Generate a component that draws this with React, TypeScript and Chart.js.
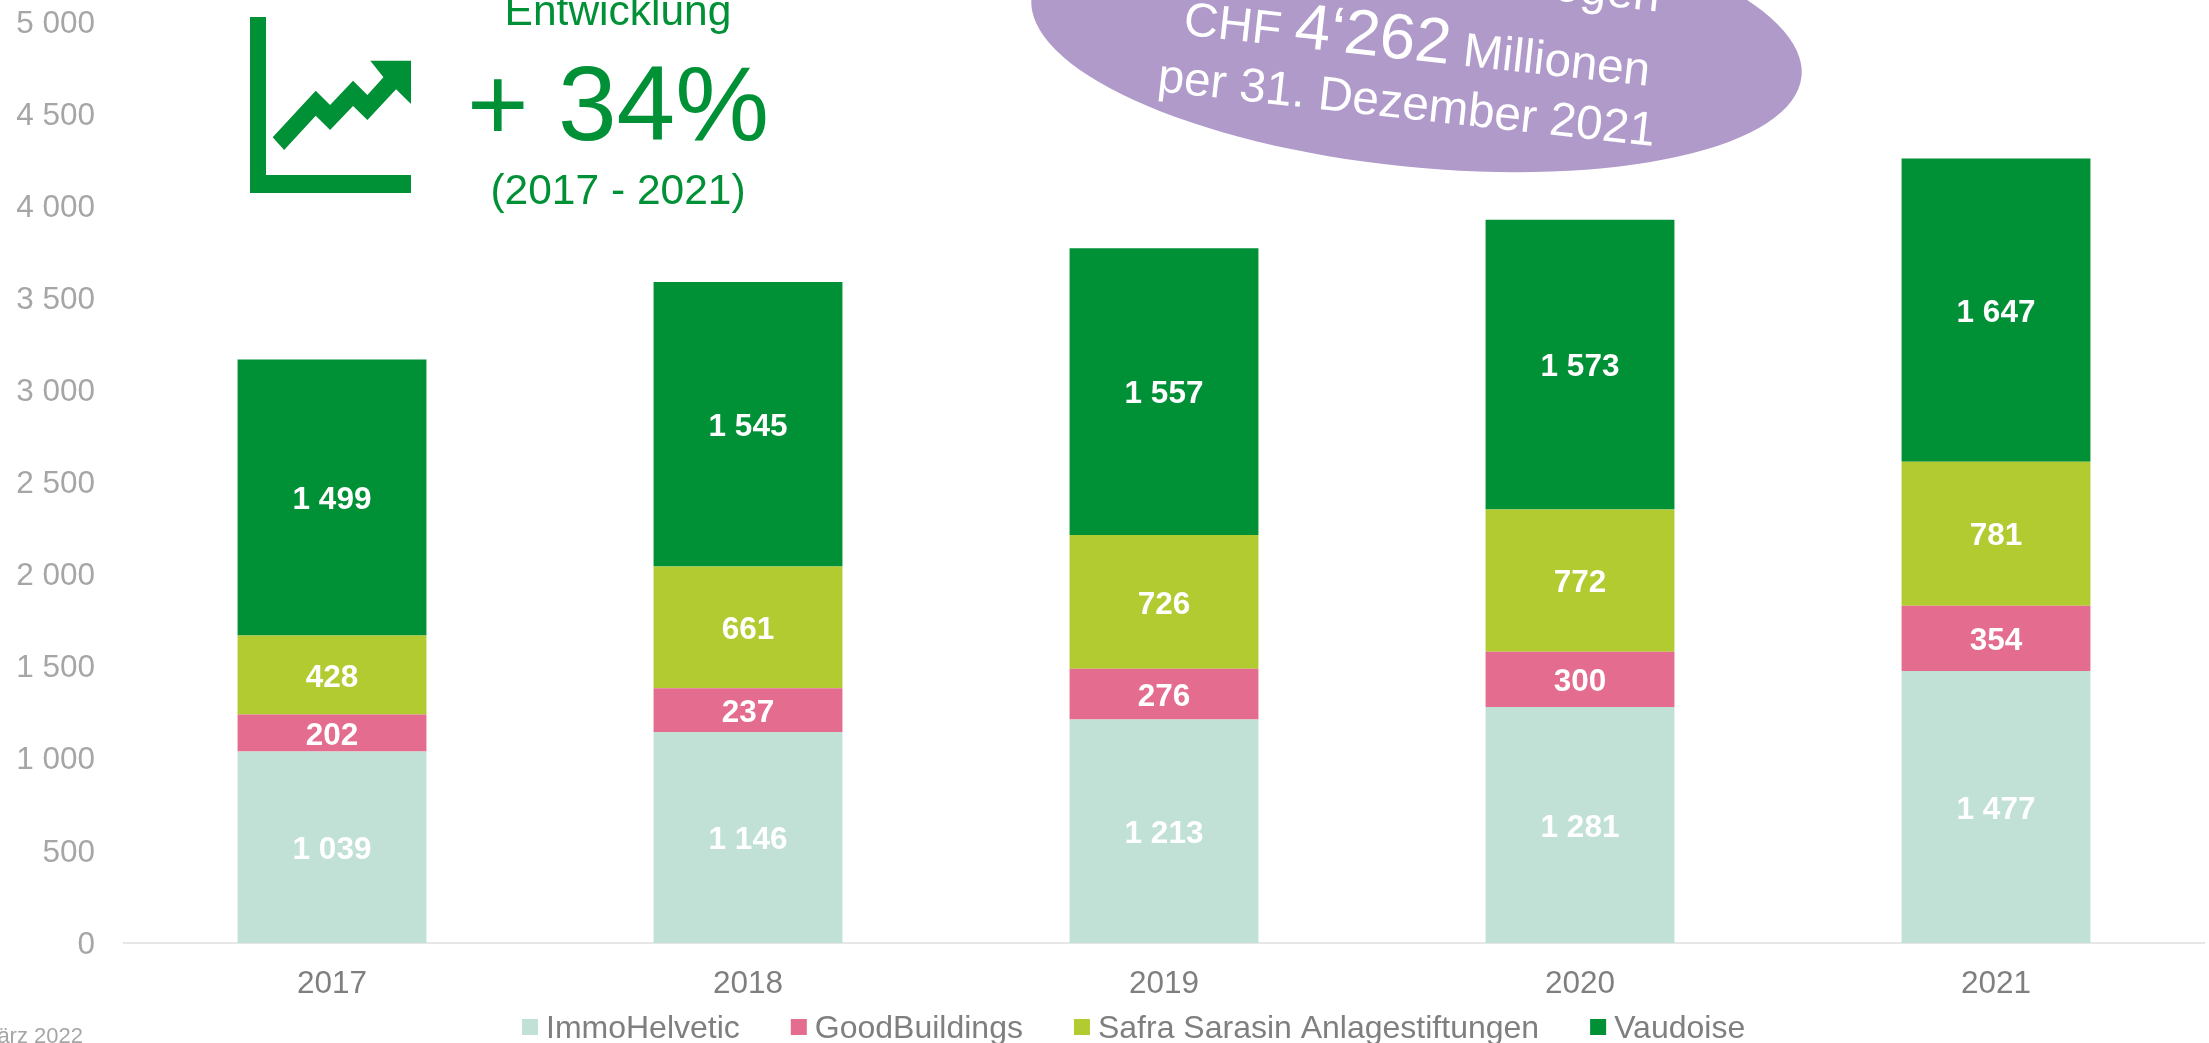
import React, { useEffect, useRef } from "react";
import { Chart, registerables } from "chart.js";

Chart.register(...registerables);

const years = ["2017", "2018", "2019", "2020", "2021"];
const immoHelvetic = [1039, 1146, 1213, 1281, 1477];
const goodBuildings = [202, 237, 276, 300, 354];
const safraSarasin = [428, 661, 726, 772, 781];
const vaudoise = [1499, 1545, 1557, 1573, 1647];
const yTicks = [0, 500, 1000, 1500, 2000, 2500, 3000, 3500, 4000, 4500, 5000];

const FONT = '"Liberation Sans", Arial, sans-serif';
const GREEN = "#009036";

const fmt = (v: number) => String(v).replace(/\B(?=(\d{3})+$)/g, " ");

const barLabels = {
  id: "barLabels",
  afterDatasetsDraw(chart: any) {
    const c = chart.ctx;
    c.save();
    c.font = `bold 31.5px ${FONT}`;
    c.fillStyle = "#ffffff";
    c.textAlign = "center";
    c.textBaseline = "middle";
    chart.data.datasets.forEach((ds: any, i: number) => {
      chart.getDatasetMeta(i).data.forEach((el: any, j: number) => {
        c.fillText(fmt(ds.data[j]), el.x, (el.y + el.base) / 2 + 3);
      });
    });
    c.restore();
  },
};

const legendRow = {
  id: "legendRow",
  afterDraw(chart: any) {
    const c = chart.ctx;
    c.save();
    c.font = `32px ${FONT}`;
    c.textBaseline = "middle";
    c.textAlign = "left";
    let x = 522;
    chart.data.datasets.forEach((ds: any) => {
      c.fillStyle = ds.backgroundColor;
      c.fillRect(x, 1019, 16, 16);
      c.fillStyle = "#7F7F7F";
      c.fillText(ds.label, x + 24, 1029);
      x += 24 + c.measureText(ds.label).width + 51;
    });
    c.restore();
  },
};

const overlay = {
  id: "overlay",
  afterDraw(chart: any) {
    const c = chart.ctx;
    c.save();

    // Green development note
    c.fillStyle = GREEN;
    c.fillRect(250, 17, 16, 176);
    c.fillRect(250, 175, 161, 18);
    const arrow = [
      [475, 412], [550, 272], [575, 315], [615, 242], [640, 285], [668, 232], [645, 182],
      [716, 182], [716, 312], [690, 268], [640, 360], [615, 318], [575, 390], [550, 347], [495, 450],
    ];
    c.beginPath();
    arrow.forEach(([x, y], i) => {
      const px = x / 1.742;
      const py = y / 3;
      if (i === 0) c.moveTo(px, py);
      else c.lineTo(px, py);
    });
    c.closePath();
    c.fill();
    c.textAlign = "center";
    c.textBaseline = "alphabetic";
    c.font = `42.5px ${FONT}`;
    c.fillText("Entwicklung", 618, 25);
    c.font = `105.5px ${FONT}`;
    c.fillText("+ 34%", 618, 140);
    c.font = `42.5px ${FONT}`;
    c.fillText("(2017 - 2021)", 618, 204);

    // Purple callout
    c.fillStyle = "#B09ACA";
    c.beginPath();
    c.ellipse(1416.5, 37, 387, 130, (5.85 * Math.PI) / 180, 0, Math.PI * 2);
    c.fill();

    c.fillStyle = "#ffffff";
    c.save();
    c.translate(1405, 118.5);
    c.rotate((6.3 * Math.PI) / 180);
    c.textAlign = "center";
    c.font = `47.6px ${FONT}`;
    c.fillText("per 31. Dezember 2021", 0, 0);
    const parts: [string, number][] = [["CHF ", 47.6], ["4‘262", 64], [" Millionen", 47.6]];
    let w = 0;
    parts.forEach(([t, s]) => {
      c.font = `${s}px ${FONT}`;
      w += c.measureText(t).width;
    });
    let x = 4 - w / 2;
    c.textAlign = "left";
    parts.forEach(([t, s]) => {
      c.font = `${s}px ${FONT}`;
      c.fillText(t, x, -59);
      x += c.measureText(t).width;
    });
    c.textAlign = "right";
    c.font = `47.6px ${FONT}`;
    c.fillText("Anlagevermögen", 240, -134);
    c.restore();

    // Source note
    c.fillStyle = "#A6A6A6";
    c.font = `22px ${FONT}`;
    c.textAlign = "right";
    c.fillText("März 2022", 83, 1043);
    c.restore();
  },
};

export default function App() {
  const ref = useRef<HTMLCanvasElement>(null);
  useEffect(() => {
    const chart = new Chart(ref.current as HTMLCanvasElement, {
      type: "bar",
      data: {
        labels: years,
        datasets: [
          { label: "ImmoHelvetic", data: immoHelvetic, backgroundColor: "#C1E1D6" },
          { label: "GoodBuildings", data: goodBuildings, backgroundColor: "#E36C8F" },
          { label: "Safra Sarasin Anlagestiftungen", data: safraSarasin, backgroundColor: "#B2CB31" },
          { label: "Vaudoise", data: vaudoise, backgroundColor: GREEN },
        ],
      },
      options: {
        animation: false,
        responsive: false,
        layout: { padding: { top: 22, right: 5, left: 0, bottom: 0 } },
        datasets: { bar: { categoryPercentage: 1, barPercentage: 0.454 } },
        plugins: { legend: { display: false }, tooltip: { enabled: false }, title: { display: false } },
        scales: {
          x: {
            stacked: true,
            grid: { display: false, drawTicks: false },
            border: { color: "#E6E6E6", width: 2 },
            ticks: { color: "#7F7F7F", font: { family: FONT, size: 31.5 }, padding: 22 },
            afterFit: (s: any) => { s.height = 100; },
          },
          y: {
            stacked: true,
            min: 0,
            max: 5000,
            afterBuildTicks: (s: any) => { s.ticks = yTicks.map((value) => ({ value })); },
            grid: { display: false, drawTicks: false },
            border: { display: false },
            ticks: {
              color: "#A6A6A6",
              font: { family: FONT, size: 31.5 },
              padding: 29,
              labelOffset: 2,
              callback: (v: any) => fmt(Number(v)),
            },
            afterFit: (s: any) => { s.width = 124; s.paddingTop = 0; s.paddingBottom = 0; },
          },
        },
      },
      plugins: [barLabels, overlay, legendRow],
    } as any);
    return () => chart.destroy();
  }, []);
  return (
    <div style={{ position: "absolute", left: 0, top: 0, width: 2209, height: 1043, background: "#fff", overflow: "hidden" }}>
      <canvas ref={ref} width={2209} height={1043} style={{ display: "block" }} />
    </div>
  );
}
